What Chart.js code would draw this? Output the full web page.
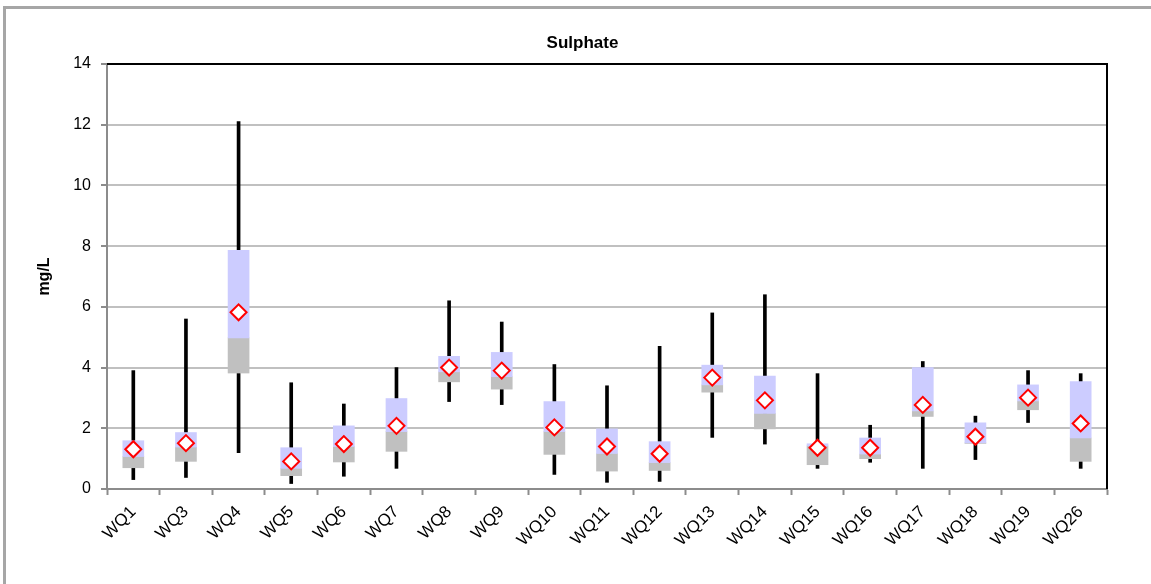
<!DOCTYPE html>
<html>
<head>
<meta charset="utf-8">
<script src="https://cdn.jsdelivr.net/npm/chart.js@4"></script>
<style>
  html, body { margin: 0; padding: 0; background: #ffffff; overflow: hidden; }
  #wrap { position: relative; width: 1151px; height: 584px; }
  #frame { position: absolute; left: 3px; top: 6px; width: 1160px; height: 600px;
           border-left: 3px solid #a6a6a6; border-top: 3px solid #a6a6a6; box-sizing: border-box; pointer-events: none; }
  canvas { position: absolute; left: 0; top: 0; }
</style>
</head>
<body>
<div id="wrap">
  <canvas id="chart" width="1151" height="584"></canvas>
  <div id="frame"></div>
</div>
<script>
// Sulphate statistics per monitoring site (mg/L)
const sites   = ['WQ1','WQ3','WQ4','WQ5','WQ6','WQ7','WQ8','WQ9','WQ10','WQ11','WQ12','WQ13','WQ14','WQ15','WQ16','WQ17','WQ18','WQ19','WQ26'];
const minimum = [0.31, 0.38, 1.20, 0.18, 0.42, 0.68, 2.88, 2.78, 0.48, 0.22, 0.25, 1.70, 1.48, 0.68, 0.88, 0.68, 0.97, 2.19, 0.68];
const maximum = [3.90, 5.60, 12.10, 3.50, 2.80, 4.00, 6.20, 5.50, 4.10, 3.40, 4.70, 5.80, 6.40, 3.80, 2.10, 4.20, 2.40, 3.90, 3.80];
const lowerQ  = [0.70, 0.91, 3.82, 0.44, 0.89, 1.24, 3.53, 3.29, 1.14, 0.59, 0.61, 3.19, 1.98, 0.80, 1.00, 2.39, 1.50, 2.61, 0.91];
const median  = [1.07, 1.38, 4.98, 0.68, 1.40, 1.89, 3.86, 3.70, 1.89, 1.17, 0.87, 3.43, 2.49, 1.42, 1.15, 2.57, 1.52, 2.90, 1.68];
const upperQ  = [1.59, 1.86, 7.86, 1.36, 2.08, 2.98, 4.37, 4.50, 2.88, 1.98, 1.56, 4.08, 3.72, 1.49, 1.68, 4.00, 2.18, 3.43, 3.54];
const mean    = [1.31, 1.51, 5.82, 0.91, 1.48, 2.08, 4.00, 3.90, 2.03, 1.40, 1.16, 3.67, 2.92, 1.36, 1.36, 2.77, 1.72, 3.01, 2.16];
const yTicks  = [0, 2, 4, 6, 8, 10, 12, 14];

const FONT = 'Arial, "Liberation Sans", Helvetica, sans-serif';

const range = (lo, hi) => lo.map((v, i) => [v, hi[i]]);

// black frame on the top and right of the plot area
const plotFrame = {
  id: 'plotFrame',
  afterDraw(chart) {
    const { ctx, chartArea: a } = chart;
    ctx.save();
    ctx.strokeStyle = '#000000';
    ctx.lineWidth = 2;
    ctx.beginPath();
    ctx.moveTo(a.left, a.top);
    ctx.lineTo(a.right, a.top);
    ctx.lineTo(a.right, a.bottom);
    ctx.stroke();
    ctx.restore();
  }
};

new Chart(document.getElementById('chart'), {
  data: {
    labels: sites,
    datasets: [
      {
        type: 'line',
        label: 'Mean',
        data: mean,
        showLine: false,
        pointStyle: 'rectRot',
        pointRadius: 8,
        pointBorderWidth: 2,
        pointBorderColor: '#ff0000',
        pointBackgroundColor: '#ffffff',
        order: 0
      },
      {
        type: 'bar',
        label: 'Median to upper quartile',
        data: range(median, upperQ),
        backgroundColor: '#ccccff',
        barThickness: 21,
        grouped: false,
        borderSkipped: false,
        order: 1
      },
      {
        type: 'bar',
        label: 'Lower quartile to median',
        data: range(lowerQ, median),
        backgroundColor: '#c0c0c0',
        barThickness: 21,
        grouped: false,
        borderSkipped: false,
        order: 1
      },
      {
        type: 'bar',
        label: 'Range',
        data: range(minimum, maximum),
        backgroundColor: '#000000',
        barThickness: 3,
        grouped: false,
        order: 2
      }
    ]
  },
  options: {
    responsive: false,
    animation: false,
    layout: { padding: { left: 14, right: 0, top: 0, bottom: 0 } },
    plugins: {
      legend: { display: false },
      tooltip: { enabled: false },
      title: {
        display: true,
        text: 'Sulphate',
        color: '#000000',
        font: { family: FONT, size: 17, weight: 'bold', lineHeight: 1.2 },
        padding: { top: 33, bottom: 10.6 }
      }
    },
    scales: {
      x: {
        offset: true,
        grid: { display: true, drawOnChartArea: false, tickLength: 6, tickColor: '#8c8c8c', tickWidth: 2, offset: true },
        border: { color: '#8c8c8c', width: 2 },
        ticks: {
          color: '#000000',
          font: { family: FONT, size: 17 },
          minRotation: 45,
          maxRotation: 45,
          padding: 7,
          autoSkip: false
        },
        afterFit(scale) { scale.height = 95; }
      },
      y: {
        min: 0,
        max: 14,
        afterBuildTicks(scale) { scale.ticks = yTicks.map(v => ({ value: v })); },
        grid: { color: '#c0c0c0', lineWidth: 2, tickLength: 6, tickColor: '#8c8c8c', tickWidth: 2 },
        border: { color: '#8c8c8c', width: 2 },
        ticks: {
          color: '#000000',
          font: { family: FONT, size: 16 },
          padding: 10
        },
        title: {
          display: true,
          text: 'mg/L',
          color: '#000000',
          font: { family: FONT, size: 16, weight: 'bold', lineHeight: 1.2 },
          padding: { top: 21, bottom: 0 }
        },
        afterFit(scale) { scale.width = 93; }
      },
      yRight: {
        position: 'right',
        display: true,
        grid: { display: false },
        border: { display: false },
        ticks: { display: false },
        afterFit(scale) { scale.width = 44; }
      }
    }
  },
  plugins: [plotFrame]
});
</script>
</body>
</html>
